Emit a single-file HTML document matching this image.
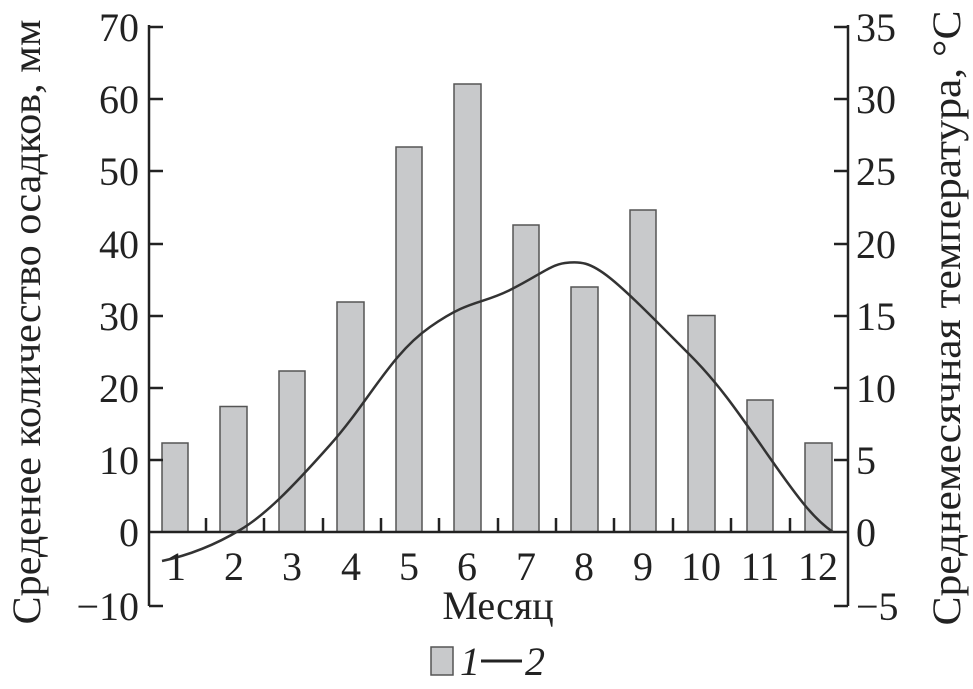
<!DOCTYPE html><html><head><meta charset="utf-8"><style>body{margin:0;background:#fff}svg{display:block}text{font-family:"Liberation Serif",serif;fill:#222}</style></head><body>
<svg width="973" height="689" viewBox="0 0 973 689">
<g fill="#c8c9cb" stroke="#555" stroke-width="1.5">
<rect x="162" y="443" width="26" height="89"/>
<rect x="220" y="406.5" width="27" height="125.5"/>
<rect x="279" y="371" width="26" height="161"/>
<rect x="337" y="302" width="27" height="230"/>
<rect x="396" y="147" width="26" height="385"/>
<rect x="454" y="84" width="27" height="448"/>
<rect x="513" y="225" width="26" height="307"/>
<rect x="571" y="287" width="27" height="245"/>
<rect x="630" y="210" width="26" height="322"/>
<rect x="688" y="315.5" width="27" height="216.5"/>
<rect x="747" y="400" width="26" height="132"/>
<rect x="805" y="443" width="27" height="89"/>
</g>
<g stroke="#222" stroke-width="2.5" fill="none">
<path d="M149 25V606"/><path d="M848 25V606"/><path d="M149 532H848"/>
<path d="M149 27h14M149 99h14M149 171h14M149 244h14M149 316h14M149 388h14M149 460h14M149 606h14"/>
<path d="M848 27h-14M848 99h-14M848 171h-14M848 244h-14M848 316h-14M848 388h-14M848 460h-14M848 606h-14"/>
<path d="M206 532v-14M264 532v-14M323 532v-14M381 532v-14M439 532v-14M498 532v-14M556 532v-14M614 532v-14M673 532v-14M731 532v-14M790 532v-14"/>
<path stroke="#333" d="M162 561 C190 555,215 545,240 530 S290 490,330 445 S390 355,430 327 S480 305,510 290 S550 265,565 263 S590 262,610 278 S660 325,690 355 S740 415,770 458 S815 520,833 532"/>
</g>
<g font-size="40" text-anchor="end">
<text x="139" y="41">70</text><text x="139" y="113">60</text><text x="139" y="185">50</text><text x="139" y="258">40</text><text x="139" y="330">30</text><text x="139" y="402">20</text><text x="139" y="474">10</text><text x="139" y="546">0</text><text x="139" y="620">−10</text>
</g>
<g font-size="40" text-anchor="start">
<text x="856" y="41">35</text><text x="856" y="113">30</text><text x="856" y="185">25</text><text x="856" y="258">20</text><text x="856" y="330">15</text><text x="856" y="402">10</text><text x="856" y="474">5</text><text x="856" y="546">0</text><text x="856" y="620">−5</text>
</g>
<g font-size="40" text-anchor="middle">
<text x="176" y="580">1</text><text x="234" y="580">2</text><text x="292" y="580">3</text><text x="351" y="580">4</text><text x="409" y="580">5</text><text x="467" y="580">6</text><text x="526" y="580">7</text><text x="584" y="580">8</text><text x="643" y="580">9</text><text x="701" y="580">10</text><text x="760" y="580">11</text><text x="818" y="580">12</text>
<text x="498" y="619">Месяц</text>
<text transform="translate(40 322) rotate(-90)" textLength="605" lengthAdjust="spacingAndGlyphs">Среденее количество осадков, мм</text>
<text transform="translate(960 318) rotate(-90)" textLength="615" lengthAdjust="spacingAndGlyphs">Среднемесячная температура, °С</text>
</g>
<rect x="431" y="647" width="22" height="28" fill="#c8c9cb" stroke="#555" stroke-width="1.5"/>
<text x="460" y="675" font-size="40" font-style="italic">1</text>
<path d="M481 661H522" stroke="#222" stroke-width="3"/>
<text x="525" y="675" font-size="40" font-style="italic">2</text>
</svg></body></html>
